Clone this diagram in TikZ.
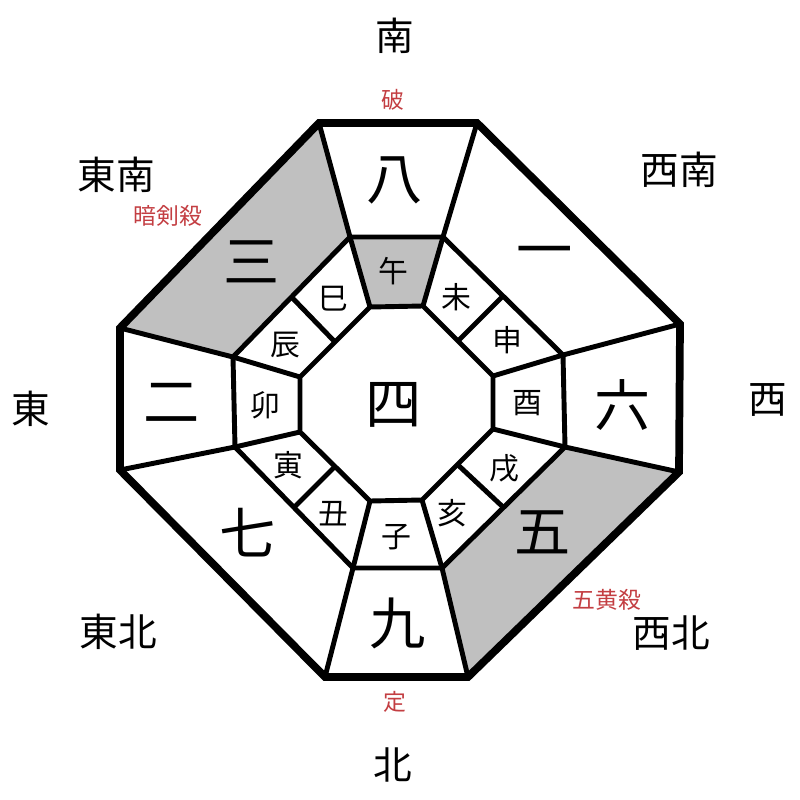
\documentclass[tikz,border=0pt]{standalone}
\usepackage{fontspec}
\setmainfont{Noto Sans CJK JP}
\usetikzlibrary{calc}
\definecolor{hai}{RGB}{192,192,192}
\definecolor{aka}{RGB}{195,62,66}

\begin{document}
\begin{tikzpicture}[x=0.02cm, y=-0.02cm,
	houi/.style={font=\fontsize{22}{22}\selectfont},
	satsu/.style={text=aka, font=\fontsize{13}{13}\selectfont},
	sei/.style={font=\fontsize{32}{32}\selectfont},
	shi/.style={font=\fontsize{17}{17}\selectfont},
	sen/.style={line width=2.8pt},
	waku/.style={line width=4.4pt}]
	\useasboundingbox (0,0) rectangle (800,800);

	\coordinate (o1) at (319,123);
	\coordinate (o2) at (477,123);
	\coordinate (o3) at (680,324);
	\coordinate (o4) at (679,472);
	\coordinate (o5) at (468,677);
	\coordinate (o6) at (325,677);
	\coordinate (o7) at (120,470);
	\coordinate (o8) at (120,328);

	\coordinate (m1) at (350,237);
	\coordinate (m2) at (443,237);
	\coordinate (m3) at (563,355);
	\coordinate (m4) at (565,447);
	\coordinate (m5) at (442,568);
	\coordinate (m6) at (353,568);
	\coordinate (m7) at (235,447);
	\coordinate (m8) at (233,357);

	\coordinate (i1) at (370,307);
	\coordinate (i2) at (423,306);
	\coordinate (i3) at (493,376);
	\coordinate (i4) at (493,429);
	\coordinate (i5) at (422,500);
	\coordinate (i6) at (370,501);
	\coordinate (i7) at (300,432);
	\coordinate (i8) at (300,377);

	\fill[hai] (o1) -- (o8) -- (m8) -- (m1) -- cycle;
	\fill[hai] (o4) -- (o5) -- (m5) -- (m4) -- cycle;
	\fill[hai] (m1) -- (m2) -- (i2) -- (i1) -- cycle;

	\draw[sen] (m1) -- (m2) -- (m3) -- (m4) -- (m5) -- (m6) -- (m7) -- (m8) -- cycle;
	\draw[sen] (i1) -- (i2) -- (i3) -- (i4) -- (i5) -- (i6) -- (i7) -- (i8) -- cycle;
	\draw[sen] (o1) -- (m1) -- (i1);
	\draw[sen] (o2) -- (m2) -- (i2);
	\draw[sen] (o3) -- (m3) -- (i3);
	\draw[sen] (o4) -- (m4) -- (i4);
	\draw[sen] (o5) -- (m5) -- (i5);
	\draw[sen] (o6) -- (m6) -- (i6);
	\draw[sen] (o7) -- (m7) -- (i7);
	\draw[sen] (o8) -- (m8) -- (i8);
	\draw[sen] ($(m2)!.5!(m3)$) -- ($(i2)!.5!(i3)$);
	\draw[sen] ($(m4)!.5!(m5)$) -- ($(i4)!.5!(i5)$);
	\draw[sen] ($(m6)!.5!(m7)$) -- ($(i6)!.5!(i7)$);
	\draw[sen] ($(m8)!.5!(m1)$) -- ($(i8)!.5!(i1)$);
	\draw[waku] (o1) -- (o2) -- (o3) -- (o4) -- (o5) -- (o6) -- (o7) -- (o8) -- cycle;

	\node[houi] (minami)    at (395,36)  {南};
	\node[houi] (tounan)    at (116,175) {東南};
	\node[houi] (seinan)    at (679,170) {西南};
	\node[houi] (higashi)   at (31,409)  {東};
	\node[houi] (nishi)     at (768,400) {西};
	\node[houi] (touhoku)   at (118,632) {東北};
	\node[houi] (seihoku)   at (671,633) {西北};
	\node[houi] (kita)      at (393,765) {北};

	\node[satsu] (ha)       at (393,100) {破};
	\node[satsu] (anken)    at (168,216) {暗剣殺};
	\node[satsu] (gooh)     at (607,600) {五黄殺};
	\node[satsu] (jou)      at (395,702) {定};

	\node[sei] (hachi)      at (395,180) {八};
	\node[sei] (ichi)       at (545,258) {一};
	\node[sei] (roku)       at (623,405) {六};
	\node[sei] (go)         at (543,532) {五};
	\node[sei] (kyuu)       at (398,623) {九};
	\node[sei] (nana)       at (248,533) {七};
	\node[sei] (ni)         at (172,403) {二};
	\node[sei] (san)        at (252,262) {三};
	\node[sei] (yon)        at (394,405) {四};

	\node[shi] (uma)        at (393,271) {午};
	\node[shi] (hitsuji)    at (456,297) {未};
	\node[shi] (saru)       at (507,340) {申};
	\node[shi] (tori)       at (527,403) {酉};
	\node[shi] (inu)        at (504,468) {戌};
	\node[shi] (i)          at (452,513) {亥};
	\node[shi] (ne)         at (396,537) {子};
	\node[shi] (ushi)       at (333,514) {丑};
	\node[shi] (tora)       at (288,465) {寅};
	\node[shi] (u)          at (265,405) {卯};
	\node[shi] (tatsu)      at (285,345) {辰};
	\node[shi] (mi)         at (333,299) {巳};
\end{tikzpicture}
\end{document}
